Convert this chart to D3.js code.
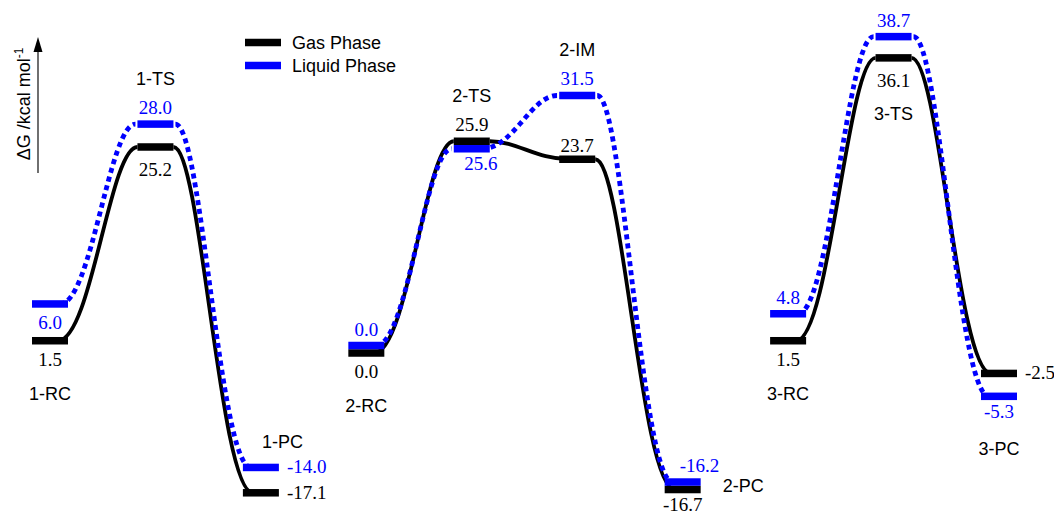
<!DOCTYPE html>
<html>
<head>
<meta charset="utf-8">
<script src="https://cdn.jsdelivr.net/npm/d3@7"></script>
<style>
  body { margin: 0; background: #fff; }
  svg { display: block; }
  .name { font-family: "Liberation Sans", Arial, sans-serif; font-size: 18px; fill: #000; }
  .val { font-family: "Liberation Serif", "Times New Roman", serif; font-size: 19px; }
</style>
</head>
<body>
<svg id="chart" width="1054" height="514"></svg>
<script>
// states along the three reaction paths
const states = ['1-RC', '1-TS', '1-PC', '2-RC', '2-TS', '2-IM', '2-PC', '3-RC', '3-TS', '3-PC'];
const pathway = [1, 1, 1, 2, 2, 2, 2, 3, 3, 3];
// relative free energies, kcal/mol
const gasG = [1.5, 25.2, -17.1, 0.0, 25.9, 23.7, -16.7, 1.5, 36.1, -2.5];
const liquidG = [6.0, 28.0, -14.0, 0.0, 25.6, 31.5, -16.2, 4.8, 38.7, -5.3];
const seriesNames = ['Gas Phase', 'Liquid Phase'];
const axisTitle = 'ΔG /kcal mol';
const axisTitleSup = '-1';

// where each label sits next to its level
const namePlace = {
  '1-RC': 'below', '1-TS': 'above', '1-PC': 'aboveRight', '2-RC': 'below', '2-TS': 'above',
  '2-IM': 'above', '2-PC': 'right', '3-RC': 'below', '3-TS': 'belowLoose', '3-PC': 'below'
};
const gasPlace = {
  '1-RC': 'below', '1-TS': 'belowLoose', '1-PC': 'right', '2-RC': 'below', '2-TS': 'above',
  '2-IM': 'aboveTight', '2-PC': 'belowTight', '3-RC': 'below', '3-TS': 'belowLoose', '3-PC': 'right'
};
const liqPlace = {
  '1-RC': 'below', '1-TS': 'above', '1-PC': 'right', '2-RC': 'above', '2-TS': 'belowRight',
  '2-IM': 'above', '2-PC': 'aboveRight', '3-RC': 'above', '3-TS': 'above', '3-PC': 'belowTight'
};

const barW = 36, barH = 7.5;
const GAS = '#000', LIQ = '#0000ff';

const svg = d3.select('#chart');

const x = d3.scalePoint().domain(states).range([50, 999]);
const y = d3.scaleLinear().domain([0, 40]).range([353, 26]);

const fmt = d3.formatLocale({ decimal: '.', thousands: ',', grouping: [3], currency: ['', ''], minus: '-' }).format('.1f');

// bar positions: liquid bar is stacked next to the gas bar when they would overlap
const levels = states.map((s, i) => {
  const gy = y(gasG[i]);
  let ly = y(liquidG[i]);
  if (Math.abs(gy - ly) < barH) {
    ly = liquidG[i] < gasG[i] ? gy + barH : gy - barH;
  }
  return { state: s, path: pathway[i], x: x(s), gy, ly, g: gasG[i], l: liquidG[i] };
});

// S-shaped connector; the low end starts a little inside its bar
function connector(a, b, inset) {
  const p = d3.path();
  const aLow = a.y > b.y;
  const lo = aLow ? { x: a.x - inset, y: a.y } : { x: b.x + inset, y: b.y };
  const hi = aLow ? b : a;
  const s = Math.sign(hi.x - lo.x);
  const dx = Math.abs(hi.x - lo.x);
  const cpLo = [lo.x + s * 0.42 * dx, lo.y];
  const cpHi = [hi.x - s * 0.35 * dx, hi.y];
  const [p0, c1, c2, p1] = aLow
    ? [lo, cpLo, cpHi, hi]
    : [hi, cpHi, cpLo, lo];
  p.moveTo(p0.x, p0.y);
  p.bezierCurveTo(c1[0], c1[1], c2[0], c2[1], p1.x, p1.y);
  return p.toString();
}

const links = [];
for (let i = 0; i < levels.length - 1; i++) {
  const a = levels[i], b = levels[i + 1];
  if (a.path !== b.path) continue;
  links.push({ series: 'gas', d: connector({ x: a.x + barW / 2, y: a.gy }, { x: b.x - barW / 2, y: b.gy }, 10) });
  links.push({ series: 'liq', d: connector({ x: a.x + barW / 2 + 2, y: a.ly }, { x: b.x - barW / 2 - 2, y: b.ly }, 10) });
}

const gLinks = svg.append('g');
gLinks.selectAll('path.gas')
  .data(links.filter(d => d.series === 'gas'))
  .join('path')
  .attr('class', 'gas')
  .attr('d', d => d.d)
  .attr('fill', 'none')
  .attr('stroke', GAS)
  .attr('stroke-width', 3.8);

gLinks.selectAll('path.liq')
  .data(links.filter(d => d.series === 'liq'))
  .join('path')
  .attr('class', 'liq')
  .attr('d', d => d.d)
  .attr('fill', 'none')
  .attr('stroke', LIQ)
  .attr('stroke-width', 4.8)
  .attr('stroke-dasharray', '5,4');

// level bars
const gBars = svg.append('g');
gBars.selectAll('rect.gas')
  .data(levels)
  .join('rect')
  .attr('class', 'gas')
  .attr('x', d => d.x - barW / 2)
  .attr('y', d => d.gy - barH / 2)
  .attr('width', barW)
  .attr('height', barH)
  .attr('fill', GAS);

gBars.selectAll('rect.liq')
  .data(levels)
  .join('rect')
  .attr('class', 'liq')
  .attr('x', d => d.x - barW / 2)
  .attr('y', d => d.ly - barH / 2)
  .attr('width', barW)
  .attr('height', barH)
  .attr('fill', LIQ);

// value labels
function valuePos(place, bx, by) {
  switch (place) {
    case 'above': return [bx, by - 10, 'middle'];
    case 'aboveTight': return [bx, by - 7, 'middle'];
    case 'right': return [bx + barW / 2 + 8, by + 6, 'start'];
    case 'aboveRight': return [bx - 3, by - 10, 'start'];
    case 'belowRight': return [bx + 9, by + 21, 'middle'];
    case 'belowTight': return [bx, by + 21.5, 'middle'];
    case 'belowLoose': return [bx, by + 29.5, 'middle'];
    default: return [bx, by + 25, 'middle'];
  }
}

function namePos(place, d) {
  const top = Math.min(d.gy, d.ly), bottom = Math.max(d.gy, d.ly);
  switch (place) {
    case 'above': return [d.x, top - 39, 'middle'];
    case 'aboveRight': return [d.x + 1, top - 19, 'start'];
    case 'right': return [d.x + barW / 2 + 22, (top + bottom) / 2 + 6, 'start'];
    case 'belowLoose': return [d.x, bottom + 62, 'middle'];
    default: return [d.x, bottom + 59, 'middle'];
  }
}

const gText = svg.append('g');
gText.selectAll('text.gasval')
  .data(levels)
  .join('text')
  .attr('class', 'val gasval')
  .each(function (d) {
    const [tx, ty, a] = valuePos(gasPlace[d.state], d.x, d.gy);
    d3.select(this).attr('x', tx).attr('y', ty).attr('text-anchor', a);
  })
  .attr('fill', GAS)
  .text(d => fmt(d.g));

gText.selectAll('text.liqval')
  .data(levels)
  .join('text')
  .attr('class', 'val liqval')
  .each(function (d) {
    const [tx, ty, a] = valuePos(liqPlace[d.state], d.x, d.ly);
    d3.select(this).attr('x', tx).attr('y', ty).attr('text-anchor', a);
  })
  .attr('fill', LIQ)
  .text(d => fmt(d.l));

gText.selectAll('text.name')
  .data(levels)
  .join('text')
  .attr('class', 'name')
  .each(function (d) {
    const [tx, ty, a] = namePos(namePlace[d.state], d);
    d3.select(this).attr('x', tx).attr('y', ty).attr('text-anchor', a);
  })
  .text(d => d.state);

// legend
const legend = svg.append('g').attr('transform', 'translate(245,42.5)');
seriesNames.forEach((name, i) => {
  const row = legend.append('g').attr('transform', `translate(0,${i * 23})`);
  row.append('rect')
    .attr('x', 0).attr('y', -barH / 2)
    .attr('width', barW).attr('height', barH)
    .attr('fill', i === 0 ? GAS : LIQ);
  row.append('text')
    .attr('class', 'name')
    .attr('x', 47).attr('y', 6)
    .attr('fill', i === 0 ? GAS : LIQ)
    .text(name);
});

// energy arrow on the left
const ax = 38;
svg.append('line')
  .attr('x1', ax).attr('x2', ax)
  .attr('y1', 173).attr('y2', 48)
  .attr('stroke', '#222').attr('stroke-width', 1.3);
svg.append('path')
  .attr('d', `M${ax},37 L${ax - 4.5},52 L${ax + 4.5},52 Z`)
  .attr('fill', '#000');

const title = svg.append('text')
  .attr('class', 'name')
  .attr('transform', 'translate(30,104) rotate(-90)')
  .attr('text-anchor', 'middle');
title.append('tspan').text(axisTitle);
title.append('tspan')
  .attr('dy', -7)
  .style('font-size', '12px')
  .text(axisTitleSup);
</script>
</body>
</html>
